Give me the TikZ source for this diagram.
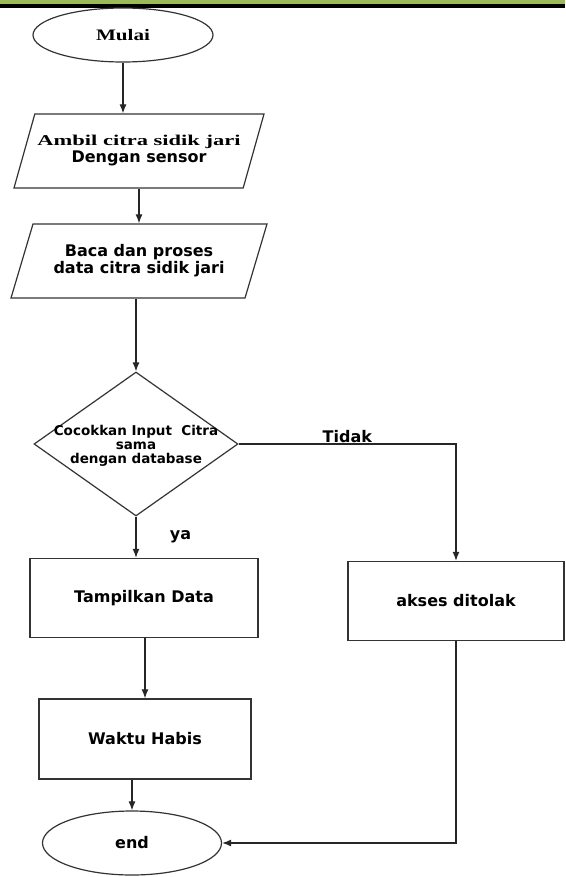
\documentclass[tikz,border=0pt]{standalone}
\usepackage{fontspec}
\usepackage{graphicx}
\setmainfont{DejaVu Sans}
\newfontfamily\timesfont{Liberation Serif}
\usetikzlibrary{shapes.geometric,arrows.meta,positioning}
\definecolor{olivebar}{HTML}{9BBB59}
\newcommand{\mline}[1]{\makebox[0pt]{#1}}

\begin{document}
\begin{tikzpicture}[x=1pt,y=-1pt,
  every node/.style={font=\bfseries\fontsize{16}{17}\selectfont},
  terminal/.style={ellipse,draw=black!80,line width=1.2pt,minimum width=180pt,minimum height=54pt,inner sep=0pt},
  io/.style={trapezium,trapezium left angle=56,trapezium right angle=124,trapezium stretches body,
    draw=black!80,line width=1.2pt,minimum width=250pt,minimum height=74pt,inner sep=0pt,align=center},
  decision/.style={diamond,draw=black!80,line width=1.2pt,minimum width=204pt,minimum height=144pt,
    inner sep=0pt,align=center,font=\bfseries\fontsize{13.5}{14}\selectfont},
  process/.style={rectangle,draw=black!80,line width=1.4pt,minimum width=220pt,minimum height=79pt},
  arr/.style={-{Latex[length=9pt,width=7pt]},line width=1.2pt,draw=black!85}]
\useasboundingbox (0,0) rectangle (565,877);
% top band
\fill[olivebar] (0,0) rectangle (565,4);
\fill[black] (0,4) rectangle (565,8);
% main column
\node[terminal] (mulai) at (123,35) {\timesfont\bfseries\fontsize{16}{17}\selectfont\scalebox{1.32}[1]{Mulai}};
\node[io] (ambil) at (139,151) {\mline{\timesfont\bfseries\fontsize{15}{17}\selectfont\scalebox{1.5}[1]{Ambil citra sidik jari}}\\\mline{Dengan sensor}};
\node[io,minimum width=256pt] (baca) at (139,261) {\mline{Baca dan proses}\\\mline{data citra sidik jari}};
\node[decision] (cocok) at (136,444) {\mline{}\\\mline{Cocokkan Input\ \ Citra}\\\mline{sama}\\\mline{dengan database}};
\node[process,minimum width=228pt] (tampil) at (144,598) {\raisebox{4pt}{Tampilkan Data}};
\node[process,minimum width=212pt,minimum height=80pt] (waktu) at (145,739) {Waktu Habis};
\node[terminal,minimum width=179pt,minimum height=64pt] (akhir) at (132,843) {end};
% right branch
\node[process,minimum width=216pt] (tolak) at (456,601) {\raisebox{2pt}{akses ditolak}};
% arrows
\draw[arr] (mulai) -- (mulai |- ambil.north);
\draw[arr] (ambil) -- (baca);
\draw[arr] (baca.south -| cocok.north) -- (cocok.north);
\draw[arr] (cocok.south) -- node[right,xshift=30pt]{ya} (cocok.south |- tampil.north);
\draw[arr] (cocok.east) -- node[above,inner sep=1pt]{Tidak} (cocok.east -| tolak.north) -- (tolak.north);
\draw[arr] (tampil.south -| waktu.north) -- (waktu.north);
\draw[arr] (waktu.south -| akhir.north) -- (akhir.north);
\draw[arr] (tolak.south) -- (tolak.south |- akhir.east) -- (akhir.east);
\end{tikzpicture}
\end{document}
